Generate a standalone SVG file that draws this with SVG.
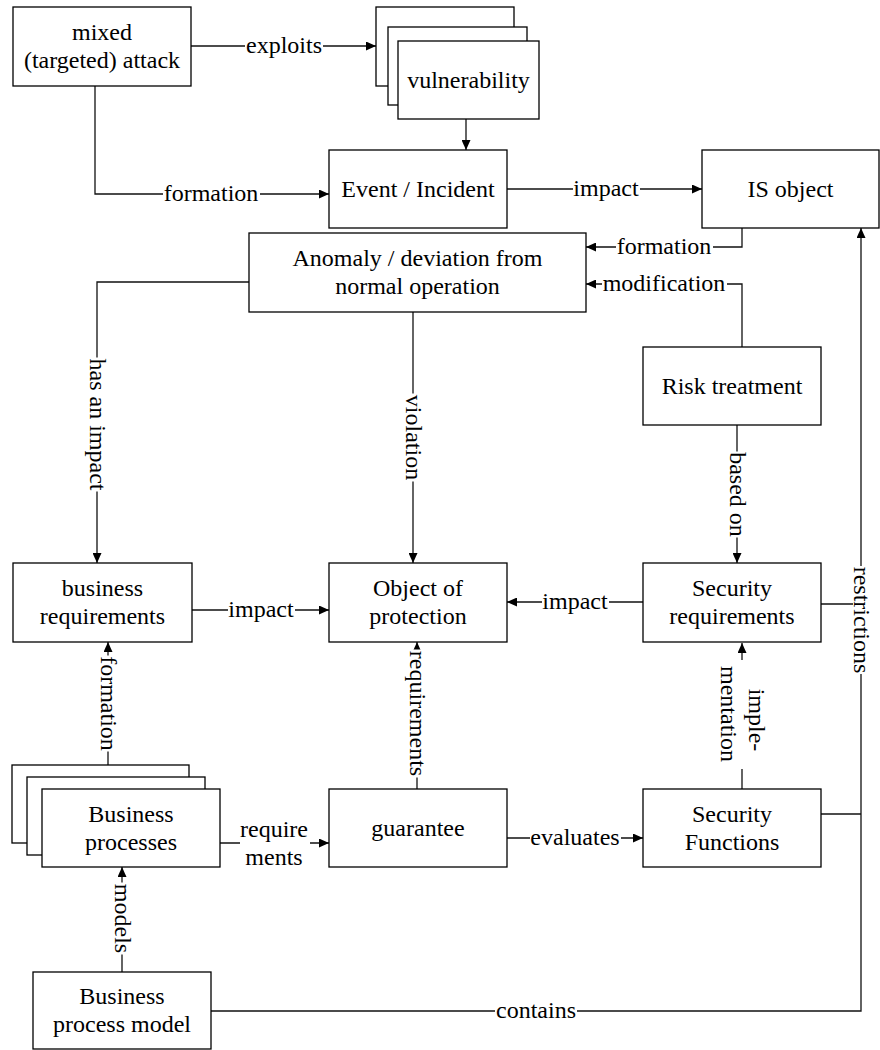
<svg xmlns="http://www.w3.org/2000/svg" width="880" height="1050" viewBox="0 0 880 1050" font-family="Liberation Serif">
  <defs>
    <marker id="arr" markerWidth="10" markerHeight="9" refX="10" refY="4.5" orient="auto" markerUnits="userSpaceOnUse">
      <path d="M0,0 L10,4.5 L0,9 z" fill="#000"/>
    </marker>
    <style>
      .box { fill: #fff; stroke: #000; stroke-width: 1.3; }
      .t { font-family: Liberation Serif, Tinos, DejaVu Serif, serif; font-size: 24px; fill: #000; text-anchor: middle; }
      .ln { fill: none; stroke: #111; stroke-width: 1.3; }
      .bg { fill: #fff; }
    </style>
  </defs>
  <rect width="880" height="1050" fill="#fff"/>

  <!-- connectors -->
  <g id="connectors">
    <path class="ln" d="M191,46 H376" marker-end="url(#arr)"/>
    <path class="ln" d="M95,86 V194 H329" marker-end="url(#arr)"/>
    <path class="ln" d="M466,119 V150" marker-end="url(#arr)"/>
    <path class="ln" d="M507,189 H702" marker-end="url(#arr)"/>
    <path class="ln" d="M742,228 V247 H586" marker-end="url(#arr)"/>
    <path class="ln" d="M742,347 V284 H586" marker-end="url(#arr)"/>
    <path class="ln" d="M249,282 H97 V563" marker-end="url(#arr)"/>
    <path class="ln" d="M413,312 V563" marker-end="url(#arr)"/>
    <path class="ln" d="M737,425 V563" marker-end="url(#arr)"/>
    <path class="ln" d="M192,610 H329" marker-end="url(#arr)"/>
    <path class="ln" d="M643,602 H507" marker-end="url(#arr)"/>
    <path class="ln" d="M821,604 H861"/>
    <path class="ln" d="M821,814 H861"/>
    <path class="ln" d="M211,1011 H861 V228" marker-end="url(#arr)"/>
    <path class="ln" d="M108,765 V642" marker-end="url(#arr)"/>
    <path class="ln" d="M417,789 V642" marker-end="url(#arr)"/>
    <path class="ln" d="M742,789 V643" marker-end="url(#arr)"/>
    <path class="ln" d="M507,838 H643" marker-end="url(#arr)"/>
    <path class="ln" d="M220,843 H329" marker-end="url(#arr)"/>
    <path class="ln" d="M122,972 V867" marker-end="url(#arr)"/>

    <!-- horizontal labels -->
    <rect class="bg" x="245" y="38" width="78" height="16"/>
    <text class="t" x="284" y="53">exploits</text>
    <rect class="bg" x="163" y="186" width="97" height="16"/>
    <text class="t" x="211" y="201">formation</text>
    <rect class="bg" x="573" y="181" width="67" height="16"/>
    <text class="t" x="606" y="196">impact</text>
    <rect class="bg" x="616" y="239" width="97" height="16"/>
    <text class="t" x="664" y="254">formation</text>
    <rect class="bg" x="602" y="276" width="125" height="16"/>
    <text class="t" x="664" y="291">modification</text>
    <rect class="bg" x="228" y="602" width="67" height="16"/>
    <text class="t" x="261" y="617">impact</text>
    <rect class="bg" x="542" y="594" width="67" height="16"/>
    <text class="t" x="575" y="609">impact</text>
    <rect class="bg" x="530" y="830" width="91" height="16"/>
    <text class="t" x="575" y="845">evaluates</text>
    <rect class="bg" x="240" y="828" width="70" height="40"/>
    <text class="t" x="274" y="837">require</text>
    <text class="t" x="274" y="865">ments</text>
    <rect class="bg" x="495" y="1003" width="82" height="16"/>
    <text class="t" x="536" y="1018">contains</text>

    <!-- vertical labels -->
    <g transform="translate(97,424.5) rotate(90)">
      <rect class="bg" x="-67" y="-8" width="134" height="16"/>
      <text class="t" x="0" y="7">has an impact</text>
    </g>
    <g transform="translate(413,437.5) rotate(90)">
      <rect class="bg" x="-44" y="-8" width="88" height="16"/>
      <text class="t" x="0" y="7">violation</text>
    </g>
    <g transform="translate(737,494.5) rotate(90)">
      <rect class="bg" x="-43" y="-8" width="86" height="16"/>
      <text class="t" x="0" y="7">based on</text>
    </g>
    <g transform="translate(861,620) rotate(90)">
      <rect class="bg" x="-54" y="-8" width="108" height="16"/>
      <text class="t" x="0" y="7">restrictions</text>
    </g>
    <g transform="translate(108,703.5) rotate(90)">
      <rect class="bg" x="-48" y="-8" width="96" height="16"/>
      <text class="t" x="0" y="7">formation</text>
    </g>
    <g transform="translate(417,713.5) rotate(90)">
      <rect class="bg" x="-64" y="-8" width="128" height="16"/>
      <text class="t" x="0" y="7">requirements</text>
    </g>
    <g transform="translate(742,714) rotate(90)">
      <rect class="bg" x="-54" y="-20" width="109" height="40"/>
      <text class="t" x="6" y="-7">imple-</text>
      <text class="t" x="0" y="21">mentation</text>
    </g>
    <g transform="translate(122,918.5) rotate(90)">
      <rect class="bg" x="-36" y="-8" width="72" height="16"/>
      <text class="t" x="0" y="7">models</text>
    </g>
  </g>

  <!-- nodes -->
  <g id="attack">
    <rect class="box" x="13" y="7" width="178" height="79"/>
    <text class="t" x="102" y="40">mixed</text>
    <text class="t" x="102" y="68">(targeted) attack</text>
  </g>
  <g id="vulnerability">
    <rect class="box" x="376" y="7" width="138" height="79"/>
    <rect class="box" x="388" y="27" width="139" height="78"/>
    <rect class="box" x="398" y="41" width="141" height="78"/>
    <text class="t" x="468.5" y="88">vulnerability</text>
  </g>
  <g id="event">
    <rect class="box" x="329" y="150" width="178" height="78"/>
    <text class="t" x="418" y="197">Event / Incident</text>
  </g>
  <g id="is-object">
    <rect class="box" x="702" y="150" width="177" height="78"/>
    <text class="t" x="790.5" y="197">IS object</text>
  </g>
  <g id="anomaly">
    <rect class="box" x="249" y="233" width="337" height="79"/>
    <text class="t" x="417.5" y="266">Anomaly / deviation from</text>
    <text class="t" x="417.5" y="294">normal operation</text>
  </g>
  <g id="risk-treatment">
    <rect class="box" x="643" y="347" width="178" height="78"/>
    <text class="t" x="732" y="394">Risk treatment</text>
  </g>
  <g id="business-requirements">
    <rect class="box" x="13" y="563" width="179" height="79"/>
    <text class="t" x="102.5" y="596">business</text>
    <text class="t" x="102.5" y="624">requirements</text>
  </g>
  <g id="object-of-protection">
    <rect class="box" x="329" y="563" width="178" height="79"/>
    <text class="t" x="418" y="596">Object of</text>
    <text class="t" x="418" y="624">protection</text>
  </g>
  <g id="security-requirements">
    <rect class="box" x="643" y="563" width="178" height="79"/>
    <text class="t" x="732" y="596">Security</text>
    <text class="t" x="732" y="624">requirements</text>
  </g>
  <g id="business-processes">
    <rect class="box" x="12" y="765" width="177" height="78"/>
    <rect class="box" x="27" y="777" width="178" height="78"/>
    <rect class="box" x="42" y="789" width="178" height="78"/>
    <text class="t" x="131" y="821.5">Business</text>
    <text class="t" x="131" y="849.5">processes</text>
  </g>
  <g id="guarantee">
    <rect class="box" x="329" y="789" width="178" height="78"/>
    <text class="t" x="418" y="836">guarantee</text>
  </g>
  <g id="security-functions">
    <rect class="box" x="643" y="789" width="178" height="78"/>
    <text class="t" x="732" y="821.5">Security</text>
    <text class="t" x="732" y="849.5">Functions</text>
  </g>
  <g id="business-process-model">
    <rect class="box" x="33" y="972" width="178" height="77"/>
    <text class="t" x="122" y="1004">Business</text>
    <text class="t" x="122" y="1032">process model</text>
  </g>
</svg>
